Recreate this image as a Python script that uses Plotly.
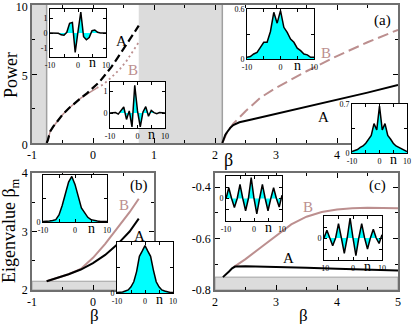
import plotly.graph_objects as go

SERIF = "Liberation Serif, Times New Roman, serif"
W, H = 415, 324
BROWN = "#bc8f8f"
CYAN = "#00ffff"
GREY = "#dcdcdc"
EDGE = "#a0a0a0"

# ---------------- panel (a): power vs beta ----------------
beta_A_left = [-0.76, -0.74, -0.72, -0.7, -0.65, -0.6, -0.5, -0.4, -0.3, -0.2, -0.1,
               0.0, 0.1, 0.2, 0.3, 0.4, 0.5, 0.6, 0.7, 0.75]
power_A_left = [0, 0.2, 0.55, 0.85, 1.2, 1.5, 2.05, 2.5, 2.9, 3.25, 3.6,
                4.0, 4.4, 4.95, 5.5, 6.15, 6.8, 7.5, 8.15, 8.5]
beta_B_solid = [-0.76, -0.74, -0.72, -0.7, -0.65, -0.6, -0.5, -0.4, -0.3, -0.2, -0.1, 0.0, 0.06]
power_B_solid = [0, 0.2, 0.55, 0.85, 1.2, 1.5, 2.05, 2.5, 2.9, 3.25, 3.55, 3.85, 3.98]
beta_B_dot = [0.06, 0.17, 0.3, 0.44, 0.55, 0.66, 0.75]
power_B_dot = [3.98, 4.25, 4.75, 5.35, 5.95, 6.7, 7.3]
beta_A_right = [2.12, 2.14, 2.17, 2.2, 2.25, 2.3, 2.4, 2.6, 3.0, 3.5, 4.0, 4.5, 5.0]
power_A_right = [0, 0.3, 0.6, 0.8, 1.1, 1.3, 1.5, 1.7, 2.1, 2.6, 3.1, 3.65, 4.2]
beta_B_right = [2.12, 2.15, 2.2, 2.3, 2.5, 2.75, 3.0, 3.5, 4.0, 4.5, 5.0]
power_B_right = [0, 0.3, 0.8, 1.4, 2.3, 3.3, 4.0, 5.2, 6.3, 7.3, 8.2]
bands_a = [(-1.0, -0.76), (0.75, 2.12)]

# ---------------- panel (b): eigenvalue vs beta (left branch) ----------------
beta_b = [-0.76, -0.6, -0.4, -0.2, 0.0, 0.2, 0.4, 0.6, 0.75]
eig_A_b = [2.15, 2.2, 2.27, 2.35, 2.46, 2.6, 2.78, 3.0, 3.22]
eig_B_b = [2.15, 2.2, 2.27, 2.36, 2.55, 2.79, 3.05, 3.33, 3.56]
band_b = (2.0, 2.15)

# ---------------- panel (c): eigenvalue vs beta (right branch) ----------------
beta_A_c = [2.13, 2.18, 2.23, 2.28, 2.33, 2.5, 3.0, 3.5, 4.0, 4.5, 5.0]
eig_A_c = [-0.75, -0.74, -0.728, -0.716, -0.709, -0.708, -0.71, -0.713, -0.717, -0.72, -0.724]
beta_B_c = [2.3, 2.5, 2.75, 3.0, 3.25, 3.5, 3.75, 4.0, 4.25, 4.5, 4.75, 5.0]
eig_B_c = [-0.712, -0.68, -0.635, -0.59, -0.545, -0.515, -0.497, -0.487, -0.482, -0.48, -0.48, -0.482]
band_c = (-0.8, -0.75)

# ---------------- inset profiles, sites n = -10..10 ----------------
n_sites = list(range(-10, 11))
prof_a1 = [0, 0, 0, -0.02, -0.12, -0.15, 0.05, 0.65, 0.7, -1.3, 0.1,
           1.4, -0.25, -0.45, -0.3, 0.15, 0.2, 0.05, 0, 0, 0]
prof_a2 = [0, 0, 0.02, -0.05, 0.1, 0.28, -0.3, 0.1, -0.65, 1.3, 0.1,
           -0.65, 0.05, 0.3, -0.15, 0.12, 0.02, -0.03, 0.02, 0, 0]
prof_a3 = [0.02, 0.03, 0.06, 0.08, 0.14, 0.2, 0.2, 0.33, 0.56, 0.43, 0.58,
           0.38, 0.32, 0.24, 0.2, 0.13, 0.1, 0.06, 0.05, 0.02, 0.02]
prof_a4 = [0.02, 0.03, 0.05, 0.08, 0.1, 0.14, 0.2, 0.25, 0.42, 0.33, 0.67,
           0.33, 0.42, 0.25, 0.2, 0.14, 0.1, 0.08, 0.05, 0.03, 0.02]
prof_b1 = [0.01, 0.01, 0.02, 0.03, 0.05, 0.15, 0.35, 0.6, 0.85, 0.97, 0.8,
           0.55, 0.3, 0.2, 0.1, 0.05, 0.03, 0.02, 0.01, 0.01, 0.01]
prof_b2 = [0.01, 0.01, 0.02, 0.04, 0.06, 0.12, 0.22, 0.42, 0.72, 0.82, 0.93,
           0.82, 0.72, 0.45, 0.22, 0.12, 0.06, 0.04, 0.02, 0.01, 0.01]
prof_c1 = [0, 0.5, 0, -0.42, 0, 0.66, 0, -0.57, 0, 0.97, 0,
           -0.72, 0, 0.66, 0, -0.57, 0, 0.5, 0, -0.4, 0.15]
prof_c2 = [0, 0.35, 0, -0.35, 0, 0.65, 0, -0.7, 0, 0.9, 0,
           -0.8, 0, 0.65, 0, -0.5, 0, 0.4, 0, -0.25, 0.15]


def dom(l, t, r, b):
    return [l / W, r / W], [1 - b / H, 1 - t / H]


def ann(text, px, py, size=14, color="black", angle=0):
    return dict(text=text, x=px / W, y=1 - py / H, xref="paper", yref="paper",
                showarrow=False, textangle=angle, xanchor="center", yanchor="middle",
                font=dict(family=SERIF, size=size, color=color))


main_style = dict(showline=True, linecolor="#6f6f6f", linewidth=1.5, mirror="allticks",
                  ticks="inside", ticklen=5, tickwidth=1, tickcolor="black",
                  showgrid=False, zeroline=False, fixedrange=True, automargin=False,
                  ticklabeloverflow="allow",
                  tickfont=dict(family=SERIF, size=12, color="black"))
inset_style = dict(showline=True, linecolor="black", linewidth=1, mirror="allticks",
                   ticks="inside", ticklen=3, tickwidth=1, tickcolor="black",
                   showgrid=False, zeroline=False, fixedrange=True, automargin=False,
                   ticklabeloverflow="allow",
                   tickfont=dict(family=SERIF, size=8, color="black"))

layout = dict(width=W, height=H, margin=dict(l=0, r=0, t=0, b=0, autoexpand=False),
              paper_bgcolor="white", plot_bgcolor="white", showlegend=False,
              font=dict(family=SERIF, color="black"),
              shapes=[], annotations=[])


def set_axes(k, box, xr, yr, style, xt, yt):
    s = "" if k == 1 else str(k)
    xd, yd = dom(*box)
    layout["xaxis" + s] = {**style, **xt, "domain": xd, "range": xr, "anchor": "y" + s}
    layout["yaxis" + s] = {**style, **yt, "domain": yd, "range": yr, "anchor": "x" + s}


def minor(vals):
    return dict(tickvals=vals, ticks="inside", ticklen=3, tickcolor="black")


# main panels
set_axes(1, (32, 5, 398, 143), [-1, 5], [0, 10], main_style,
         dict(tickmode="array", tickvals=[-1, 0, 1, 2, 3, 4, 5],
              ticktext=["-1", "0", "1", "2", "3", "4", " "],
              minor=minor([-0.5, 0.5, 1.5, 2.5, 3.5, 4.5])),
         dict(tickmode="array", tickvals=[0, 5, 10], ticktext=["0", "5", "10"],
              ticklabelshift=2, minor=minor([2.5, 7.5])))
set_axes(2, (32, 173, 154, 290), [-1, 1], [2, 4], main_style,
         dict(tickmode="array", tickvals=[-1, 0, 1], ticktext=["-1", "0", " "],
              minor=minor([-0.5, 0.5])),
         dict(tickmode="array", tickvals=[2, 3, 4], ticktext=["2", "3", "4"],
              minor=minor([2.5, 3.5])))
set_axes(3, (215, 173, 398, 290), [2, 5], [-0.8, -0.345], main_style,
         dict(tickmode="array", tickvals=[2, 3, 4, 5], ticktext=["2", "3", "4", "5"],
              minor=minor([2.5, 3.5, 4.5])),
         dict(tickmode="array", tickvals=[-0.8, -0.6, -0.4], ticktext=["-0.8", "-0.6", "-0.4"],
              minor=minor([-0.7, -0.5])))

# grey forbidden bands
for lo, hi in bands_a:
    layout["shapes"].append(dict(type="rect", xref="x", yref="y", x0=lo, x1=hi, y0=0, y1=10,
                                 fillcolor=GREY, line=dict(width=0), layer="below"))
for xv in (bands_a[0][1], bands_a[1][1]):
    layout["shapes"].append(dict(type="line", xref="x", yref="y", x0=xv, x1=xv, y0=0, y1=10,
                                 line=dict(color=EDGE, width=1.5), layer="below"))
layout["shapes"].append(dict(type="rect", xref="x2", yref="y2", x0=-1, x1=1,
                             y0=band_b[0], y1=band_b[1], fillcolor=GREY,
                             line=dict(color=EDGE, width=1), layer="below"))
layout["shapes"].append(dict(type="rect", xref="x3", yref="y3", x0=2, x1=5,
                             y0=band_c[0], y1=band_c[1], fillcolor=GREY,
                             line=dict(color=EDGE, width=1), layer="below"))

fig = go.Figure()


def line(x, y, ax, color, width=2, dash="solid"):
    fig.add_trace(go.Scatter(x=x, y=y, mode="lines", xaxis="x" + ax, yaxis="y" + ax,
                             line=dict(color=color, width=width, dash=dash),
                             hoverinfo="skip"))


# panel (a)
line(beta_B_solid, power_B_solid, "", BROWN, 1.5)
line(beta_B_dot, power_B_dot, "", BROWN, 1.8, "2px,3px")
line(beta_A_left, power_A_left, "", "black", 2.2, "8px,4px")
line(beta_B_right, power_B_right, "", BROWN, 2, "11px,5px")
line(beta_A_right, power_A_right, "", "black", 2)
# panel (b)
line(beta_b, eig_B_b, "2", BROWN, 2)
line(beta_b, eig_A_b, "2", "black", 2)
# panel (c)
line(beta_B_c, eig_B_c, "3", BROWN, 2)
line(beta_A_c, eig_A_c, "3", "black", 2)

# insets: (axis id, box l,t,r,b in px, y range, profile, y ticks, y tick text)
insets = [
    (4, (110, 82, 165, 128), [-0.7, 1.45], prof_a2, [0, 1], ["0", "1"]),
    (5, (117, 242, 173, 293), [0, 1], prof_b2, [0, 0.5, 1], ["0", " ", " "]),
    (6, (50, 9, 106, 57), [-1.6, 1.6], prof_a1, [-1, 0, 1], ["-1", "0", "1"]),
    (7, (247, 9, 314, 59), [0, 0.6], prof_a3, [0, 0.3, 0.6], ["0", " ", "0.6"]),
    (8, (352, 104, 407, 153), [0, 0.7], prof_a4, [0, 0.35, 0.7], ["0", " ", "0.7"]),
    (9, (43, 175, 107, 222), [0, 1], prof_b1, [0, 0.5, 1], ["0", " ", " "]),
    (10, (226, 176, 282, 221), [-1.05, 1.05], prof_c1, [-0.5, 0, 0.5], [" ", "0", " "]),
    (11, (324, 216, 382, 260), [-1, 1], prof_c2, [-0.5, 0, 0.5], [" ", "0", " "]),
]
for k, box, yr, prof, yv, yt in insets:
    set_axes(k, box, [-10, 10], yr, inset_style,
             dict(tickmode="array", tickvals=[-10, -5, 0, 5, 10],
                  ticktext=["-10", " ", "0", " ", "10"]),
             dict(tickmode="array", tickvals=yv, ticktext=yt))
    s = str(k)
    fig.add_trace(go.Scatter(x=[-10, 10, 10, -10, -10], y=[yr[0], yr[0], yr[1], yr[1], yr[0]],
                             mode="lines", fill="toself", fillcolor="white",
                             line=dict(width=0), xaxis="x" + s, yaxis="y" + s,
                             hoverinfo="skip"))
    fig.add_trace(go.Scatter(x=n_sites, y=prof, mode="lines", fill="tozeroy",
                             fillcolor=CYAN, line=dict(color="black", width=1.5),
                             xaxis="x" + s, yaxis="y" + s, hoverinfo="skip"))
    l, t, r, b = box
    layout["annotations"].append(ann("n", l + 0.75 * (r - l), b + 6, size=14))

# axis titles, panel tags, branch labels
layout["annotations"] += [
    ann("Power", 11, 75, size=18, angle=-90),
    ann("Eigenvalue β<sub>m</sub>", 11, 231, size=18, angle=-90),
    ann("β", 228, 160, size=18),
    ann("β", 94, 315, size=17),
    ann("β", 303, 315, size=17),
    ann("(a)", 382, 20, size=15),
    ann("(b)", 139, 185, size=15),
    ann("(c)", 377, 185, size=15),
    ann("A", 121, 41, size=15),
    ann("B", 133, 70, size=15, color=BROWN),
    ann("B", 326, 53, size=15, color=BROWN),
    ann("A", 323, 117, size=15),
    ann("B", 124, 205, size=15, color=BROWN),
    ann("A", 139, 236, size=15),
    ann("B", 308, 207, size=15, color=BROWN),
    ann("A", 288, 258, size=15),
]

fig.update_layout(layout)
# the page's default 8px body margin would shift the chart; remove it
fig.write_html("out.html", config={"displayModeBar": False},
               post_script="document.body.style.margin='0px';")
